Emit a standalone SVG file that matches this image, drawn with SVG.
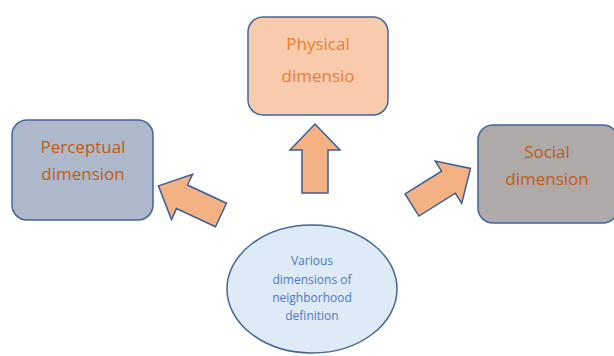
<svg xmlns="http://www.w3.org/2000/svg" width="614" height="356" viewBox="0 0 614 356">
<defs>
<style>
.box{stroke:#41669A;stroke-width:1.5}
.lbl{font-family:"Open Sans","Liberation Sans",sans-serif;font-size:17px;text-anchor:middle}
.small{font-family:"Open Sans","Liberation Sans",sans-serif;font-size:12px;text-anchor:middle;fill:#4A78C8}
.arr{fill:#F4B183;stroke:#3B5F95;stroke-width:1.5;stroke-linejoin:miter}
</style>
<path id="arrow" d="M0,-13 L43,-13 L43,-25 L69,0 L43,25 L43,13 L0,13 Z"/>
</defs>
<rect width="614" height="356" fill="#ffffff"/>
<g id="perceptual">
<rect class="box" x="12" y="120" width="141" height="100" rx="15" fill="#ADB9CA"/>
<text class="lbl" x="83" y="153" fill="#C55A11">Perceptual</text>
<text class="lbl" x="83" y="180" fill="#C55A11">dimension</text>
</g>
<g id="physical">
<rect class="box" x="248" y="17" width="140" height="98" rx="15" fill="#F8CBAD"/>
<text class="lbl" x="318" y="50" fill="#ED7D31">Physical</text>
<text class="lbl" x="318" y="82" fill="#ED7D31">dimensio</text>
</g>
<g id="social">
<rect class="box" x="478" y="125" width="140" height="98" rx="15" fill="#AEAAAA"/>
<text class="lbl" x="547" y="158" fill="#C55A11">Social</text>
<text class="lbl" x="547" y="185" fill="#C55A11">dimension</text>
</g>
<g id="center">
<ellipse cx="312" cy="289" rx="85" ry="64" fill="#DEEBF7" stroke="#41669A" stroke-width="1.5"/>
<text class="small" x="312" y="265">Various</text>
<text class="small" x="312" y="284">dimensions of</text>
<text class="small" x="312" y="302">neighborhood</text>
<text class="small" x="312" y="320">definition</text>
</g>
<g id="connectors">
<use href="#arrow" class="arr" transform="translate(315,193) rotate(-90)"/>
<use href="#arrow" class="arr" transform="translate(221,215) rotate(205)"/>
<use href="#arrow" class="arr" transform="translate(412,205) rotate(-32)"/>
</g>
</svg>
